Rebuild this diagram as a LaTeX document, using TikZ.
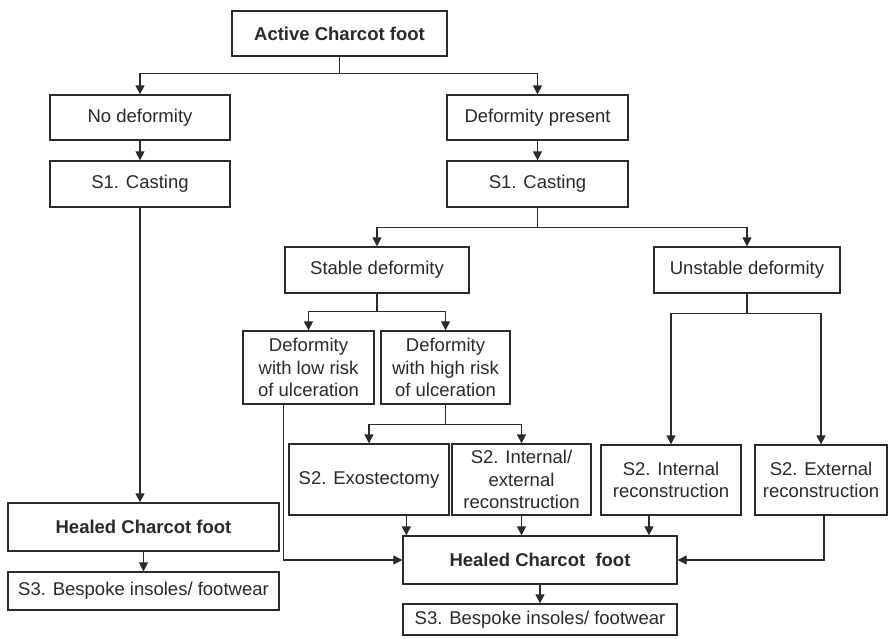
\documentclass[tikz,border=0pt]{standalone}
\usepackage{fontspec}
\setmainfont{Liberation Sans}
\usetikzlibrary{arrows.meta}
\definecolor{ink}{HTML}{2A2A2A}
\tikzset{
  box/.style={draw=ink, line width=1.3pt, fill=white, text=ink, align=center,
    inner sep=2pt, font=\fontsize{18.5}{22.5}\selectfont},
  hd/.style={box, font=\fontsize{18.5}{22.5}\selectfont\bfseries},
  link/.style={draw=ink, line width=1.3pt},
  arr/.style={link, -{Triangle[length=9pt,width=9pt]}},
}
\newcommand{\bx}[6]{\node[#1, minimum width=#4pt, minimum height=#5pt] (#2) at #3 {#6};}
\begin{document}
\begin{tikzpicture}[x=1pt,y=-1pt]
\useasboundingbox (0,0) rectangle (889,638);
% top level
\bx{hd}{act}{(339.5,33.5)}{215}{45}{Active Charcot foot}
\bx{box}{nod}{(140,117.5)}{180}{45}{No deformity}
\bx{box}{lcast}{(140,184)}{180}{46}{S1. Casting}
\bx{box}{dp}{(537.5,117.5)}{181}{45}{Deformity present}
\bx{box}{rcast}{(537.5,184)}{181}{46}{S1. Casting}
% left outcome
\bx{hd}{hl}{(143.5,527)}{271}{48}{Healed Charcot foot}
\bx{box}{s3l}{(143.5,591)}{271}{38}{S3. Bespoke insoles/ footwear}
% stability
\bx{box}{stab}{(377,270)}{184}{46}{Stable deformity}
\bx{box}{unst}{(747,270)}{186}{46}{Unstable deformity}
% risk of ulceration
\bx{box}{low}{(308.5,367.5)}{131}{73}{Deformity\\with low risk\\of ulceration}
\bx{box}{high}{(445.5,367.5)}{129}{73}{Deformity\\with high risk\\of ulceration}
% surgical options
\bx{box}{exo}{(369,479.5)}{160}{71}{S2. Exostectomy}
\bx{box}{ie}{(521.5,479.5)}{139}{71}{S2. Internal/\\external\\reconstruction}
\bx{box}{ir}{(671,480)}{140}{70}{S2. Internal\\reconstruction}
\bx{box}{er}{(821,480)}{132}{70}{S2. External\\reconstruction}
% right outcome
\bx{hd}{hr}{(540,560)}{274}{48}{Healed Charcot~~foot}
\bx{box}{s3r}{(540,619.5)}{274}{31}{S3. Bespoke insoles/ footwear}

% connectors
\draw[link] (act.south) -- ++(0,17) coordinate (j1);
\draw[arr] (j1) -| (nod.north);
\draw[arr] (j1) -| (dp.north);
\draw[arr] (nod) -- (lcast);
\draw[arr] (dp) -- (rcast);
\draw[arr] (lcast.south) -- (lcast.south |- hl.north);
\draw[arr] (hl) -- (s3l);

\draw[link] (rcast.south) -- ++(0,20) coordinate (j2);
\draw[arr] (j2) -| (stab.north);
\draw[arr] (j2) -| (unst.north);

\draw[link] (stab.south) -- ++(0,18) coordinate (j3);
\draw[arr] (j3) -| (low.north);
\draw[arr] (j3) -| (high.north);

\draw[link] (high.south) -- ++(0,20) coordinate (j4);
\draw[arr] (j4) -| (exo.north);
\draw[arr] (j4) -| (ie.north);

\draw[link] (unst.south) -- ++(0,20) coordinate (j5);
\draw[arr] (j5) -| (ir.north);
\draw[arr] (j5) -| (er.north);

\coordinate (h1) at ([xshift=4]hr.north west);
\draw[arr] (exo.south -| h1) -- (h1);
\draw[arr] (ie.south) -- (ie.south |- hr.north);
\coordinate (h3) at ([xshift=-22]ir.south);
\draw[arr] (h3) -- (h3 |- hr.north);
\coordinate (h4) at ([xshift=3]er.south);
\draw[arr] (h4) |- (hr.east);
\coordinate (l1) at ([xshift=-25]low.south);
\draw[arr] (l1) |- (hr.west);
\draw[arr] (hr) -- (s3r);
\end{tikzpicture}
\end{document}
